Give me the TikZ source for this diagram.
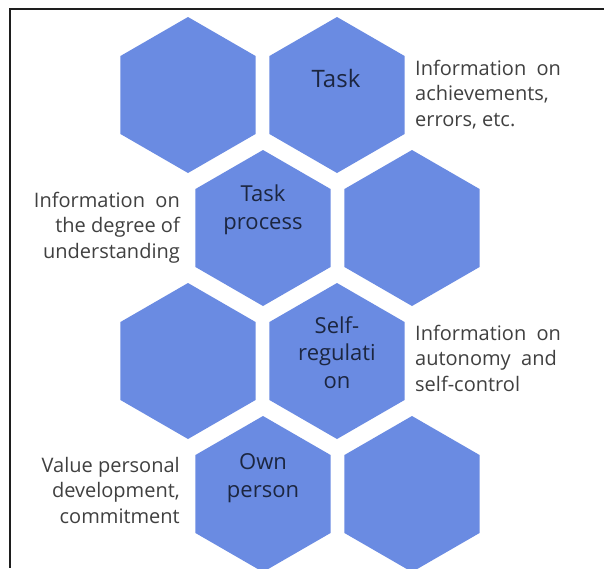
\documentclass[tikz,border=0pt]{standalone}
\usepackage{fontspec}
\setmainfont{Open Sans}
\usetikzlibrary{shapes.geometric}
\definecolor{hexblue}{RGB}{106,139,226}
\definecolor{hextext}{RGB}{28,38,64}
\definecolor{sidetext}{RGB}{64,64,64}
\definecolor{framegray}{RGB}{30,30,30}
\begin{document}
\begin{tikzpicture}[x=1pt,y=-1pt,
  hexcell/.style={regular polygon, regular polygon sides=6, shape border rotate=30,
    minimum size=156pt, inner sep=0pt, outer sep=0pt, fill=hexblue, draw=none},
  hexlabel/.style={font=\fontsize{22}{27.5}\selectfont, text=hextext, align=center,
    inner sep=0pt, anchor=base},
  sidelabelR/.style={font=\fontsize{20}{25.5}\selectfont, text=sidetext, align=left,
    inner sep=0pt, anchor=base west},
  sidelabelL/.style={font=\fontsize{20}{25.5}\selectfont, text=sidetext, align=right,
    inner sep=0pt, anchor=base east},
]
\useasboundingbox (0,0) rectangle (604,568);
\fill[white] (0,0) rectangle (604,568);
\begin{scope}
\clip (0,0) rectangle (604,568);
\node[hexcell] (h11) at (188,95) {};
\node[hexcell] (h12) at (337,95) {};
\node[hexcell] (h21) at (263,228) {};
\node[hexcell] (h22) at (412,228) {};
\node[hexcell] (h31) at (188,361) {};
\node[hexcell] (h32) at (337,361) {};
\node[hexcell] (h41) at (263,494) {};
\node[hexcell] (h42) at (412,494) {};
\end{scope}
\coordinate (fa) at (604,8.5);
\coordinate (fb) at (10,8.5);
\coordinate (fc) at (10,568);
\draw[line width=2pt, framegray] (fa) -- (fb) -- (fc);

% base anchor of a multi-line node = baseline of its last line
\node[hexlabel, font=\fontsize{24}{28}\selectfont] (t1) at (336,87) {Task};
\node[hexlabel] (t2) at (263,229) {Task\\process};
\node[hexlabel] (t3) at (337,388) {Self-\\regulati\\on};
\node[hexlabel] (t4) at (263,497) {Own\\person};

\node[sidelabelR] (s1) at (415,126) {Information\ \ on\\achievements,\\errors, etc.};
\node[sidelabelL] (s2) at (180,258) {Information\ \ on\\the degree of\\understanding};
\node[sidelabelR] (s3) at (415,391) {Information\ \ on\\autonomy\ \ and\\self-control};
\node[sidelabelL] (s4) at (180,523) {Value personal\\development,\\commitment};
\end{tikzpicture}
\end{document}
